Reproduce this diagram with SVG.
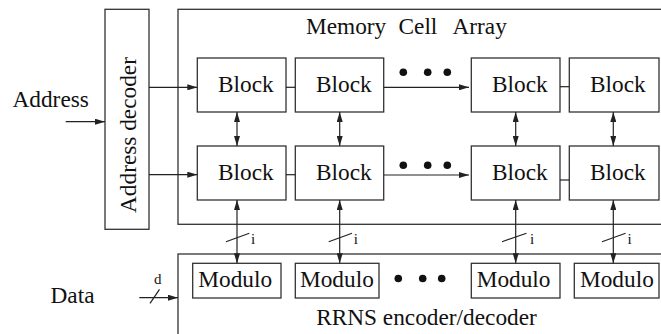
<svg xmlns="http://www.w3.org/2000/svg" width="661" height="334" viewBox="0 0 661 334" font-family="'Liberation Serif', 'Times New Roman', 'DejaVu Serif', serif">
<defs>
<style>
.box{fill:#fff;stroke:#333;stroke-width:1.3}
.ln{fill:none;stroke:#222;stroke-width:1.2}
text{font-family:'Liberation Serif','Times New Roman','DejaVu Serif',serif}
.t{font-size:23.3px;fill:#111}
.s{font-size:15px;fill:#111}
.dot{fill:#111}
</style>
<marker id="ah" viewBox="0 0 10 6" refX="10" refY="3" markerWidth="10" markerHeight="6" markerUnits="userSpaceOnUse" orient="auto-start-reverse">
<path d="M0,0 L10,3 L0,6 Z" fill="#222"/>
</marker>
</defs>
<rect width="661" height="334" fill="#fff"/>

<g id="address-label"><text class="t" x="12.5" y="106.5">Address</text></g>
<g id="data-label"><text class="t" x="50.5" y="302.5">Data</text></g>

<g id="address-decoder">
<rect class="box" x="105" y="9.3" width="44" height="220"/>
<text class="t" transform="translate(136,135) rotate(-90)" text-anchor="middle">Address decoder</text>
</g>

<g id="memory-cell-array">
<rect class="box" x="178" y="9.3" width="500" height="215"/>
<text class="t" y="33.5"><tspan x="306">Memory</tspan><tspan x="398.5">Cell</tspan><tspan x="452.5">Array</tspan></text>
</g>

<g id="rrns">
<rect class="box" x="178" y="254" width="500" height="100"/>
<text class="t" x="426.5" y="325" text-anchor="middle">RRNS encoder/decoder</text>
</g>

<g id="block-1-1"><rect class="box" x="197.3" y="58" width="88.7" height="54"/><text class="t" x="218" y="92">Block</text></g>
<g id="block-1-2"><rect class="box" x="295.3" y="58" width="88.4" height="54"/><text class="t" x="316" y="92">Block</text></g>
<g id="block-1-3"><rect class="box" x="471.3" y="58" width="88.7" height="54"/><text class="t" x="492" y="92">Block</text></g>
<g id="block-1-4"><rect class="box" x="569.3" y="58" width="89.7" height="54"/><text class="t" x="590" y="92">Block</text></g>
<g id="block-2-1"><rect class="box" x="197.3" y="146" width="88.7" height="54"/><text class="t" x="218" y="180">Block</text></g>
<g id="block-2-2"><rect class="box" x="295.3" y="146" width="88.4" height="54"/><text class="t" x="316" y="180">Block</text></g>
<g id="block-2-3"><rect class="box" x="471.3" y="146" width="88.7" height="54"/><text class="t" x="492" y="180">Block</text></g>
<g id="block-2-4"><rect class="box" x="569.3" y="146" width="89.7" height="54"/><text class="t" x="590" y="180">Block</text></g>

<g id="modulo-1"><rect class="box" x="192.7" y="263.3" width="88.3" height="34.7"/><text class="t" x="198.3" y="286.7">Modulo</text></g>
<g id="modulo-2"><rect class="box" x="295.3" y="263.3" width="83.7" height="34.7"/><text class="t" x="300" y="286.7">Modulo</text></g>
<g id="modulo-3"><rect class="box" x="471.3" y="263.3" width="88.7" height="34.7"/><text class="t" x="476.7" y="286.7">Modulo</text></g>
<g id="modulo-4"><rect class="box" x="574.3" y="263.3" width="84.7" height="34.7"/><text class="t" x="580" y="286.7">Modulo</text></g>

<g id="ellipses">
<circle class="dot" cx="403.3" cy="72.3" r="3.8"/><circle class="dot" cx="427.7" cy="72.3" r="3.8"/><circle class="dot" cx="447.3" cy="72.3" r="3.8"/>
<circle class="dot" cx="403.3" cy="165.3" r="3.8"/><circle class="dot" cx="427.7" cy="165.3" r="3.8"/><circle class="dot" cx="447.3" cy="165.3" r="3.8"/>
<circle class="dot" cx="398.3" cy="278.5" r="3.8"/><circle class="dot" cx="422.7" cy="278.5" r="3.8"/><circle class="dot" cx="441.7" cy="278.5" r="3.8"/>
</g>

<g id="connectors">
<line class="ln" x1="65.7" y1="121.7" x2="105" y2="121.7" marker-end="url(#ah)"/>
<line class="ln" x1="149" y1="87.3" x2="197.3" y2="87.3" marker-end="url(#ah)"/>
<line class="ln" x1="149" y1="174.7" x2="197.3" y2="174.7" marker-end="url(#ah)"/>
<line class="ln" x1="286" y1="87.3" x2="295.3" y2="87.3"/>
<line class="ln" x1="286" y1="174.7" x2="295.3" y2="174.7"/>
<line class="ln" x1="383.7" y1="87.3" x2="469" y2="87.3" marker-end="url(#ah)"/>
<line class="ln" x1="383.7" y1="175" x2="469" y2="175" marker-end="url(#ah)"/>
<line class="ln" x1="560" y1="86.7" x2="569.3" y2="86.7"/>
<line class="ln" x1="560" y1="180" x2="569.3" y2="180"/>
<line class="ln" x1="237" y1="112" x2="237" y2="146" marker-start="url(#ah)" marker-end="url(#ah)"/>
<line class="ln" x1="339.7" y1="112" x2="339.7" y2="146" marker-start="url(#ah)" marker-end="url(#ah)"/>
<line class="ln" x1="515.7" y1="112" x2="515.7" y2="146" marker-start="url(#ah)" marker-end="url(#ah)"/>
<line class="ln" x1="613.3" y1="112" x2="613.3" y2="146" marker-start="url(#ah)" marker-end="url(#ah)"/>
<line class="ln" x1="237" y1="200" x2="237" y2="263.3" marker-start="url(#ah)" marker-end="url(#ah)"/>
<line class="ln" x1="339.7" y1="200" x2="339.7" y2="263.3" marker-start="url(#ah)" marker-end="url(#ah)"/>
<line class="ln" x1="515.7" y1="200" x2="515.7" y2="263.3" marker-start="url(#ah)" marker-end="url(#ah)"/>
<line class="ln" x1="613.3" y1="200" x2="613.3" y2="263.3" marker-start="url(#ah)" marker-end="url(#ah)"/>
<line class="ln" x1="226" y1="241.7" x2="249.3" y2="233.3"/>
<line class="ln" x1="328.7" y1="241.7" x2="352" y2="233.3"/>
<line class="ln" x1="502" y1="241.7" x2="526.5" y2="233.3"/>
<line class="ln" x1="602" y1="241.7" x2="625.6" y2="233.3"/>
<line class="ln" x1="139.3" y1="297.7" x2="178" y2="297.7" marker-end="url(#ah)"/>
<line class="ln" x1="150" y1="303.3" x2="159.5" y2="289.3"/>
</g>

<g id="labels">
<text class="s" x="251" y="244">i</text>
<text class="s" x="353.7" y="244">i</text>
<text class="s" x="530" y="244">i</text>
<text class="s" x="627.5" y="244">i</text>
<text class="s" x="154" y="284">d</text>
</g>
</svg>
